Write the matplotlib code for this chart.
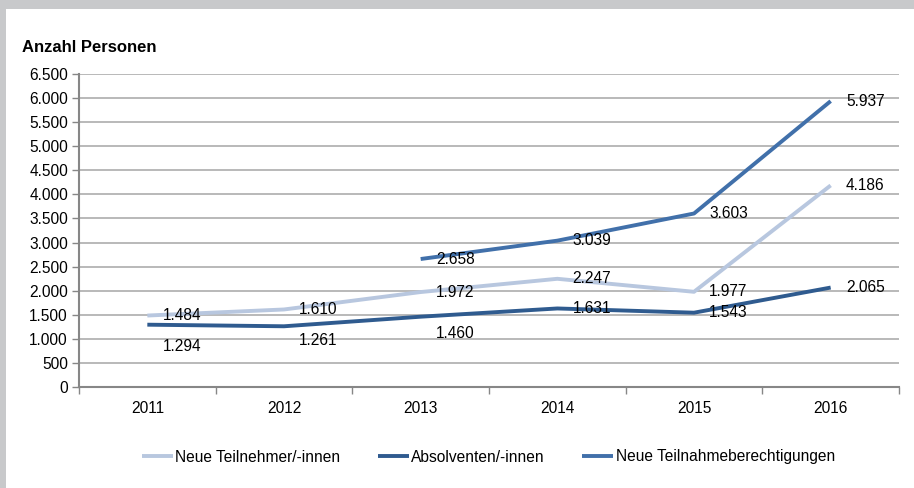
import matplotlib.pyplot as plt
from matplotlib.patches import Rectangle
from matplotlib.ticker import FuncFormatter, FixedLocator

plt.rcParams['font.family'] = ['Liberation Sans', 'DejaVu Sans']

years = ['2011', '2012', '2013', '2014', '2015', '2016']
teilnehmer = [1484, 1610, 1972, 2247, 1977, 4186]
absolventen = [1294, 1261, 1460, 1631, 1543, 2065]
berechtigungen_years = ['2013', '2014', '2015', '2016']
berechtigungen = [2658, 3039, 3603, 5937]

# label offsets (points) for Absolventen, Excel pushed some below the line
abs_dy = [-16, -10, -12, 0, 0, 0]

c_light = '#b8c7df'
c_dark = '#2f5b8f'
c_mid = '#4170aa'
fs = 11.2

fig = plt.figure(figsize=(9.14, 4.88), dpi=100)
fig.patch.set_facecolor('white')

# gray frame at top and left
fig.patches.append(Rectangle((0, 1 - 9 / 488), 1, 9 / 488, transform=fig.transFigure,
                             facecolor='#c8c9cb', edgecolor='none', zorder=0))
fig.patches.append(Rectangle((0, 0), 6 / 914, 1, transform=fig.transFigure,
                             facecolor='#c8c9cb', edgecolor='none', zorder=0))

ax = fig.add_axes([79 / 914, 1 - 387 / 488, 820 / 914, 313 / 488])

x_all = list(range(len(years)))
x_ber = [years.index(y) for y in berechtigungen_years]

ax.plot(x_all, teilnehmer, color=c_light, lw=2.8, solid_capstyle='butt', zorder=3,
        label='Neue Teilnehmer/-innen')
ax.plot(x_all, absolventen, color=c_dark, lw=2.8, solid_capstyle='butt', zorder=3,
        label='Absolventen/-innen')
ax.plot(x_ber, berechtigungen, color=c_mid, lw=2.8, solid_capstyle='butt', zorder=3,
        label='Neue Teilnahmeberechtigungen')

fmt = lambda v: f'{v:,.0f}'.replace(',', '.')

for xi, v in zip(x_all, teilnehmer):
    ax.annotate(fmt(v), (xi, v), xytext=(11, 0), textcoords='offset points',
                ha='left', va='center', fontsize=fs, zorder=4)
for xi, v, dy in zip(x_all, absolventen, abs_dy):
    ax.annotate(fmt(v), (xi, v), xytext=(11, dy), textcoords='offset points',
                ha='left', va='center', fontsize=fs, zorder=4)
for xi, v in zip(x_ber, berechtigungen):
    ax.annotate(fmt(v), (xi, v), xytext=(11, 0), textcoords='offset points',
                ha='left', va='center', fontsize=fs, zorder=4)

ax.set_xlim(-0.5, len(years) - 0.5)
ax.set_ylim(0, 6500)
ax.set_yticks(range(0, 6501, 500))
ax.yaxis.set_major_formatter(FuncFormatter(lambda v, p: fmt(v)))
ax.set_xticks(x_all)
ax.set_xticklabels(years)
ax.xaxis.set_minor_locator(FixedLocator([i - 0.5 for i in range(len(years) + 1)]))
ax.tick_params(axis='x', which='major', length=0, pad=10, labelsize=fs)
ax.tick_params(axis='x', which='minor', length=5, color='#878787', width=1)
ax.tick_params(axis='y', length=5, color='#878787', width=1, pad=3, labelsize=fs)

ax.grid(axis='y', color='#a6a6a6', lw=1.1, zorder=1)
ax.set_axisbelow(True)
for s in ['top', 'right']:
    ax.spines[s].set_visible(False)
for s in ['left', 'bottom']:
    ax.spines[s].set_color('#878787')
    ax.spines[s].set_linewidth(1.5)

fig.text(22 / 914, 1 - 47 / 488, 'Anzahl Personen', fontsize=12, fontweight='bold',
         ha='left', va='center')

fig.legend(loc='center', bbox_to_anchor=(488.5 / 914, 1 - 457 / 488), ncol=3, frameon=False,
           fontsize=fs, handlelength=2.0, handletextpad=0.15, columnspacing=2.4)

fig.savefig('out.png', dpi=100)
